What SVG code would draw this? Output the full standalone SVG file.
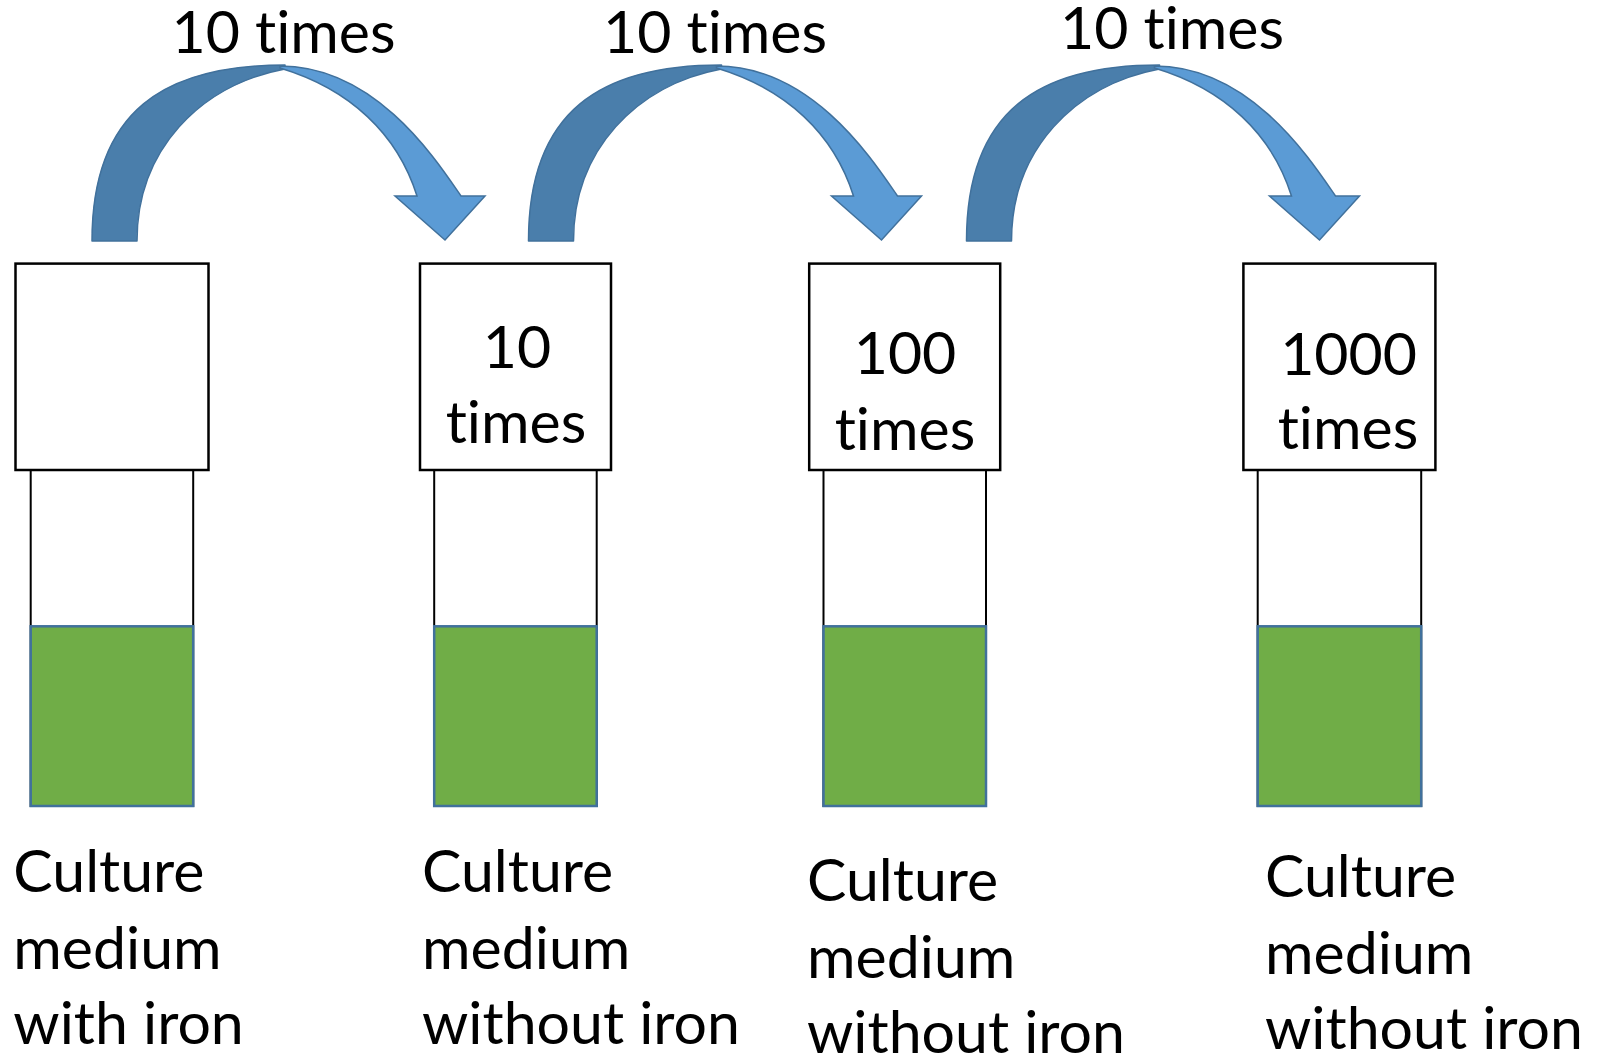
<svg xmlns="http://www.w3.org/2000/svg" width="1602" height="1057" viewBox="0 0 1602 1057">
<style>
.bg{fill:#ffffff}
.cap{fill:#ffffff;stroke:#000000;stroke-width:2.5}
.body{fill:#ffffff;stroke:#000000;stroke-width:2}
.liquid{fill:#70AD47;stroke:#41719C;stroke-width:2.5}
.dark{fill:#4A7EAB;stroke:#41719C;stroke-width:1.5;stroke-linejoin:round}
.light{fill:#5B9BD5;stroke:#41719C;stroke-width:1.5;stroke-linejoin:miter}
text{font-family:Lato,"Open Sans","Liberation Sans",sans-serif;font-size:59px;fill:#000000;font-variant-ligatures:none;font-feature-settings:"liga" 0,"clig" 0}
.mid{text-anchor:middle}
</style>
<defs>
<g id="curvedArrow">
<path class="dark" d="M92,241 C92,110 165,65 285,65 L285,69 C200,85 137,150 137,241 Z"/>
<path class="light" d="M280,66 C375,66 435.2,158.4 461,196 L485,196 L445,240 L395,196 L417,196 C397.5,134 350,89 280,68 Z"/>
</g>
</defs>
<rect class="bg" x="0" y="0" width="1602" height="1057"/>
<g id="connectors">
<use href="#curvedArrow" x="0" y="0"/>
<use href="#curvedArrow" x="436.5" y="0"/>
<use href="#curvedArrow" x="874.5" y="0"/>
<text class="mid" x="283.5" y="53">10 times</text>
<text class="mid" x="715" y="53">10 times</text>
<text class="mid" x="1172" y="49">10 times</text>
</g>
<g id="tube1">
<rect class="body" x="30.7" y="470" width="162.5" height="336"/>
<rect class="liquid" x="30.7" y="626.3" width="162.5" height="179.7"/>
<rect class="cap" x="15.5" y="263.6" width="193" height="206.4"/>
<text x="13.3" y="892">Culture</text>
<text x="13.3" y="968.6">medium</text>
<text x="13.3" y="1044">with iron</text>
</g>
<g id="tube2">
<rect class="body" x="434.2" y="470" width="162.5" height="336"/>
<rect class="liquid" x="434.2" y="626.3" width="162.5" height="179.7"/>
<rect class="cap" x="420" y="263.6" width="191" height="206.4"/>
<text class="mid" x="517" y="368">10</text>
<text class="mid" x="516" y="443">times</text>
<text x="422" y="892">Culture</text>
<text x="422" y="968.6">medium</text>
<text x="422" y="1044">without iron</text>
</g>
<g id="tube3">
<rect class="body" x="823.5" y="470" width="162.5" height="336"/>
<rect class="liquid" x="823.5" y="626.3" width="162.5" height="179.7"/>
<rect class="cap" x="809.2" y="263.6" width="191" height="206.4"/>
<text class="mid" x="905" y="374">100</text>
<text class="mid" x="905" y="449.5">times</text>
<text x="807" y="901">Culture</text>
<text x="807" y="977.8">medium</text>
<text x="807" y="1053.4">without iron</text>
</g>
<g id="tube4">
<rect class="body" x="1257.7" y="470" width="163.5" height="336"/>
<rect class="liquid" x="1257.7" y="626.3" width="163.5" height="179.7"/>
<rect class="cap" x="1243.4" y="263.6" width="192" height="206.4"/>
<text class="mid" x="1348.6" y="375">1000</text>
<text class="mid" x="1348" y="449">times</text>
<text x="1265" y="897">Culture</text>
<text x="1265" y="973.7">medium</text>
<text x="1265" y="1049.3">without iron</text>
</g>
</svg>
